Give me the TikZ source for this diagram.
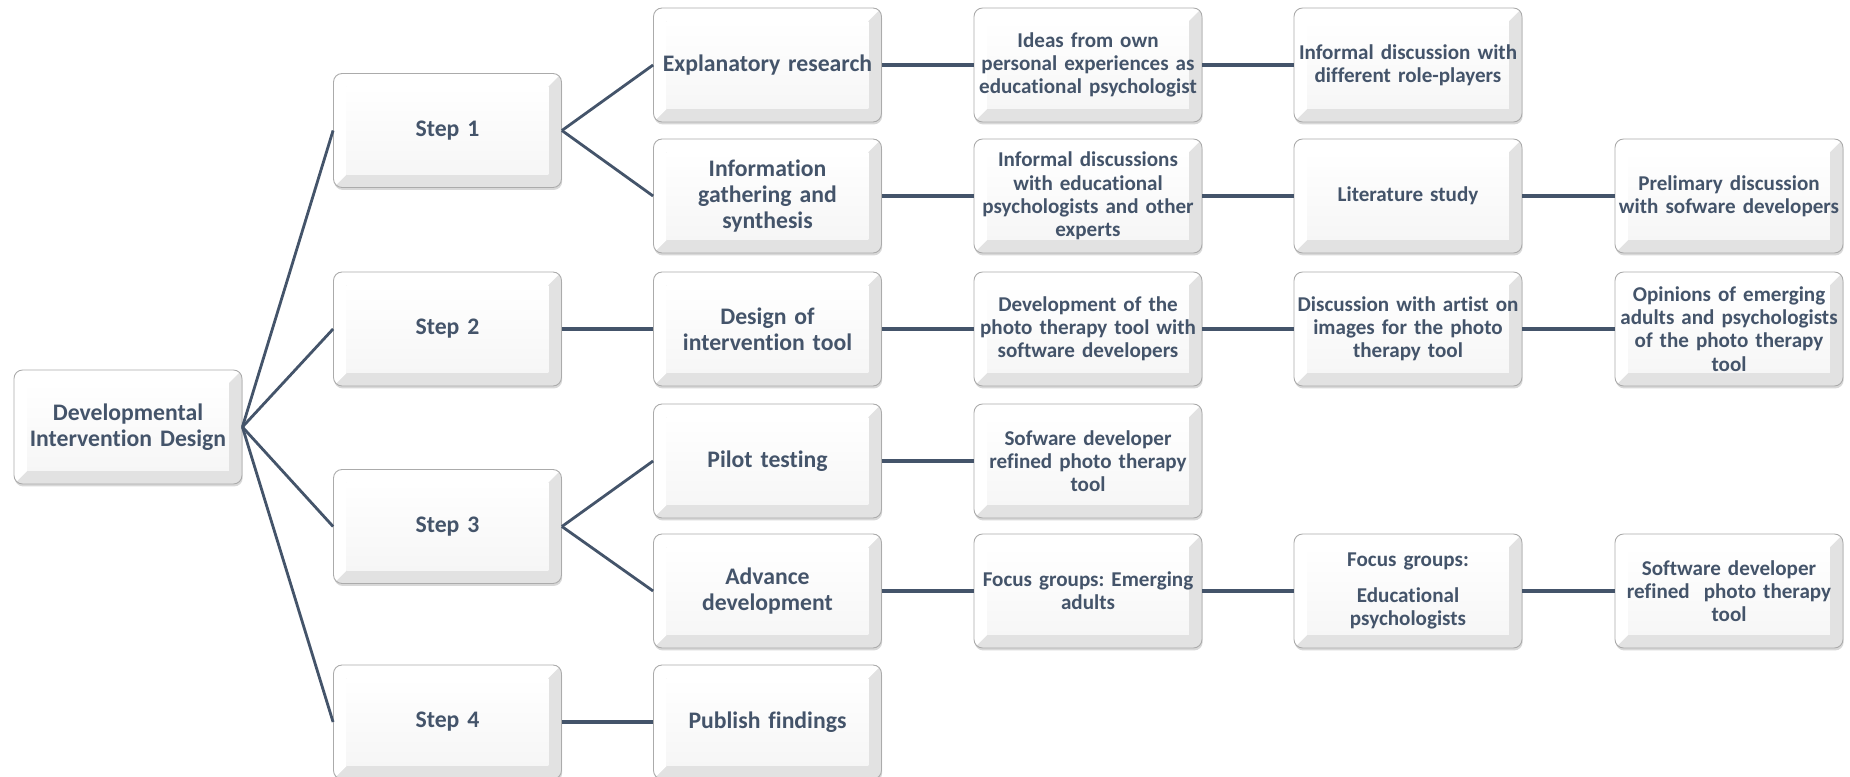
\documentclass[tikz,border=0pt]{standalone}
\usepackage{fontspec}
\setmainfont{Carlito}[Ligatures=NoCommon]
\usetikzlibrary{shadows}
\frenchspacing

\definecolor{ink}{HTML}{44546A}
\definecolor{rim}{HTML}{ABABAB}
\definecolor{bevel}{HTML}{E2E2E2}
\definecolor{face}{HTML}{F6F6F6}

\tikzset{
  % bevelled white card
  card/.style={
    rounded corners=0.17cm, draw=rim, line width=0.5pt, fill=bevel,
    minimum width=4.56cm, minimum height=2.28cm, inner xsep=1pt,
    text width=4.45cm, align=center, text=ink,
    font=\bfseries\fontsize{12}{13.2}\selectfont,
    drop shadow={shadow xshift=0.4pt, shadow yshift=-1.4pt, opacity=0.28, fill=black!55},
    path picture={
      \begin{scope}[sharp corners]
        \path (path picture bounding box.south west) coordinate (pp-sw)
              (path picture bounding box.north west) coordinate (pp-nw)
              (path picture bounding box.north east) coordinate (pp-ne);
        \fill[white] (pp-sw) -- (pp-nw) -- (pp-ne)
          -- ([shift={(-7.4pt,-7.4pt)}]pp-ne) -- ([shift={(7.4pt,-7.4pt)}]pp-nw)
          -- ([shift={(7.4pt,7.4pt)}]pp-sw) -- cycle;
        \shade[top color=white, bottom color=face]
          ([shift={(7.4pt,7.4pt)}]pp-sw) rectangle ([shift={(-7.4pt,-7.4pt)}]pp-ne);
      \end{scope}
    }
  },
  topcard/.style={card, font=\bfseries\fontsize{13.5}{14.7}\selectfont},
  link/.style={draw=ink, line width=2.2pt},
  fork/.style={draw=ink, line width=1.6pt},
}

\begin{document}
\begin{tikzpicture}[x=0.02cm, y=-0.02cm]
\useasboundingbox (0,0) rectangle (1850,777);

% root and steps
\node[topcard] (root) at (128,427) {Developmental\\ Intervention Design};
\node[topcard] (s1) at (447.5,130.5) {Step 1};
\node[topcard] (s2) at (447.5,329) {Step 2};
\node[topcard] (s3) at (447.5,526.5) {Step 3};
\node[topcard] (s4) at (447.5,722) {Step 4};

% phases
\node[topcard] (expl)   at (767.5,65)  {Explanatory research};
\node[topcard] (info)   at (767.5,196) {Information\\ gathering and\\ synthesis};
\node[topcard] (design) at (767.5,329) {Design of\\ intervention tool};
\node[topcard] (pilot)  at (767.5,461) {Pilot testing};
\node[topcard] (adv)    at (767.5,591) {Advance\\ development};
\node[topcard] (pub)    at (767.5,722) {Publish findings};

% activities
\node[card] (ideas)   at (1088,65)  {Ideas from own\\ personal experiences as\\ educational psychologist};
\node[card] (roles)   at (1408,65)  {Informal discussion with\\ different role-players};
\node[card] (experts) at (1088,196) {Informal discussions\\ with educational\\ psychologists and other\\ experts};
\node[card] (lit)     at (1408,196) {Literature study};
\node[card] (prelim)  at (1729,196) {Prelimary discussion\\ with sofware developers};
\node[card] (devel)   at (1088,329) {Development of the\\ photo therapy tool with\\ software developers};
\node[card] (artist)  at (1408,329) {Discussion with artist on\\ images for the photo\\ therapy tool};
\node[card] (opin)    at (1729,329) {Opinions of emerging\\ adults and psychologists\\ of the photo therapy\\ tool};
\node[card] (refine1) at (1088,461) {Sofware developer\\ refined photo therapy\\ tool};
\node[card] (fgadult) at (1088,591) {Focus groups: Emerging\\ adults};
\node[card] (fgpsy)   at (1408,591) {Focus groups:\\[7pt] Educational\\ psychologists};
\node[card] (refine2) at (1729,591) {Software developer\\ refined\ \ photo therapy\\ tool};

% connectors
\foreach \s in {s1,s2,s3,s4} \draw[fork] (root.east) -- (\s.west);
\draw[fork] (s1.east) -- (expl.west);
\draw[fork] (s1.east) -- (info.west);
\draw[fork] (s3.east) -- (pilot.west);
\draw[fork] (s3.east) -- (adv.west);
\draw[link] (s2.east) -- (design.west);
\draw[link] (s4.east) -- (pub.west);
\draw[link] (expl.east) -- (ideas.west);
\draw[link] (ideas.east) -- (roles.west);
\draw[link] (info.east) -- (experts.west);
\draw[link] (experts.east) -- (lit.west);
\draw[link] (lit.east) -- (prelim.west);
\draw[link] (design.east) -- (devel.west);
\draw[link] (devel.east) -- (artist.west);
\draw[link] (artist.east) -- (opin.west);
\draw[link] (pilot.east) -- (refine1.west);
\draw[link] (adv.east) -- (fgadult.west);
\draw[link] (fgadult.east) -- (fgpsy.west);
\draw[link] (fgpsy.east) -- (refine2.west);
\end{tikzpicture}
\end{document}
